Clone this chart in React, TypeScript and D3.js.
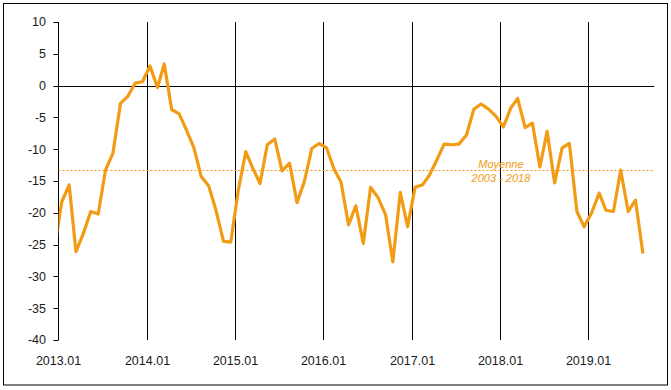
import React from 'react';
import * as d3 from 'd3';

// Monthly balance, first value is 2012.12 (clipped at the left edge of the plot)
const firstMonth = new Date(2012, 11, 15);
const values: number[] = [
  -26.0,
  // 2013
  -18.3, -15.6, -26.1, -23.2, -19.8, -20.2, -13.3, -10.6, -2.8, -1.7, 0.4, 0.6,
  // 2014
  3.1, -0.3, 3.4, -3.8, -4.4, -7.0, -9.7, -14.3, -15.8, -19.6, -24.5, -24.6,
  // 2015
  -16.5, -10.4, -12.9, -15.4, -9.3, -8.4, -13.4, -12.2, -18.4, -15.1, -9.9, -9.1,
  // 2016
  -9.8, -13.1, -15.2, -21.9, -18.9, -24.8, -16.0, -17.6, -20.3, -27.7, -16.8, -22.2,
  // 2017
  -16.0, -15.6, -14.1, -11.7, -9.2, -9.3, -9.2, -7.8, -3.7, -2.9, -3.7, -4.8,
  // 2018
  -6.5, -3.5, -2.0, -6.6, -5.9, -12.8, -7.2, -15.3, -9.8, -9.1, -19.8, -22.2,
  // 2019
  -20.0, -16.9, -19.6, -19.8, -13.3, -19.8, -18.0, -26.4,
];

const yearTicks: string[] = ['2013.01', '2014.01', '2015.01', '2016.01', '2017.01', '2018.01', '2019.01'];
const yTicks: number[] = [10, 5, 0, -5, -10, -15, -20, -25, -30, -35, -40];
const average = -13.2;
const averageLabel: string[] = ['Moyenne', '2003 - 2018'];

const W = 671;
const H = 390;
const ORANGE = '#F29B14';
const FONT = 'Liberation Sans, Arial, sans-serif';

const parseTick = d3.timeParse('%Y.%m');
const crisp = (v: number) => Math.round(v) + 0.5;

const App: React.FC = () => {
  const x = d3.scaleTime()
    .domain([new Date(2013, 0, 1), new Date(2019, 9, 1)])
    .range([58.3, 654.3]);
  const y = d3.scaleLinear().domain([-40, 10]).range([340, 22]);

  const data = values.map((v, i) => ({ date: d3.timeMonth.offset(firstMonth, i), value: v }));
  const line = d3.line<{ date: Date; value: number }>()
    .x(d => x(d.date))
    .y(d => y(d.value));

  const [x0, x1] = x.range();
  const ax = crisp(x0);
  const labelX = x(new Date(2018, 0, 1)) + 1;
  const avgY = crisp(y(average));

  return (
    <div style={{ position: 'absolute', left: 0, top: 0 }}>
      <svg width={W} height={H} style={{ display: 'block', background: '#fff' }}>
        <defs>
          <clipPath id="plot">
            <rect x={ax} y={0} width={x1 - ax} height={H} />
          </clipPath>
        </defs>
        <rect x={3.5} y={3.5} width={664} height={381.5} fill="#fff" stroke="#000" strokeWidth={1} />

        {/* vertical year lines */}
        {yearTicks.map(t => {
          const px = crisp(x(parseTick(t) as Date));
          return (
            <g key={t}>
              <line x1={px} x2={px} y1={y(10)} y2={y(-40)} stroke="#000" strokeWidth={1} />
              <text x={px} y={365} textAnchor="middle" fontFamily={FONT} fontSize={12.5} fill="#1a1a1a">{t}</text>
            </g>
          );
        })}

        {/* y axis */}
        <line x1={ax} x2={ax} y1={y(10)} y2={y(-40)} stroke="#000" strokeWidth={1} />
        {yTicks.map(t => (
          <g key={t}>
            <line x1={ax - 5} x2={ax} y1={crisp(y(t))} y2={crisp(y(t))} stroke="#000" strokeWidth={1} />
            <text x={46} y={y(t)} dy="0.35em" textAnchor="end" fontFamily={FONT} fontSize={12.5} fill="#1a1a1a">{t}</text>
          </g>
        ))}

        {/* zero line */}
        <line x1={ax} x2={x1} y1={crisp(y(0))} y2={crisp(y(0))} stroke="#000" strokeWidth={1} />

        {/* average 2003-2018 */}
        <line x1={ax} x2={x1} y1={avgY} y2={avgY} stroke={ORANGE} strokeWidth={1} strokeDasharray="2,2" />
        <text x={labelX} y={avgY - 3} textAnchor="middle" fontFamily={FONT} fontStyle="italic" fontSize={11} fill={ORANGE}>{averageLabel[0]}</text>
        <text x={labelX} y={avgY + 11} textAnchor="middle" fontFamily={FONT} fontStyle="italic" fontSize={11} fill={ORANGE}>{averageLabel[1]}</text>

        {/* series */}
        <path d={line(data) || ''} fill="none" stroke={ORANGE} strokeWidth={3.2} strokeLinejoin="round" clipPath="url(#plot)" />
      </svg>
    </div>
  );
};

export default App;
